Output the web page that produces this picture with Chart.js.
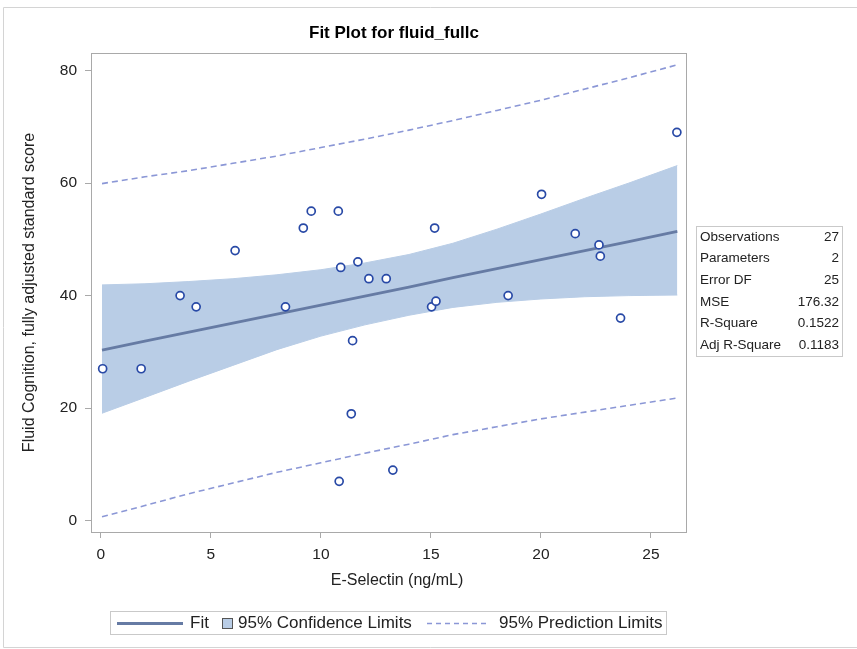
<!DOCTYPE html>
<html>
<head>
<meta charset="utf-8">
<title>Fit Plot for fluid_fullc</title>
<script src="https://cdn.jsdelivr.net/npm/chart.js@4/dist/chart.umd.min.js"></script>
<style>
  html, body { margin: 0; padding: 0; background: #ffffff; }
  canvas { display: block; }
</style>
</head>
<body>
<canvas id="fit" width="857" height="649"></canvas>
<script>
// Observations: E-Selectin (ng/mL) vs fluid cognition score
const selectin = [0.08, 1.83, 3.60, 4.33, 6.10, 8.39, 9.20, 9.56, 10.79, 10.83, 10.90, 11.38, 11.44, 11.68,
                  12.18, 12.97, 13.27, 15.03, 15.17, 15.23, 18.51, 20.03, 21.56, 22.64, 22.70, 23.62, 26.18];
const fluidScore = [27, 27, 40, 38, 48, 38, 52, 55, 55, 7, 45, 19, 32, 46,
                    43, 43, 9, 38, 52, 39, 40, 58, 51, 49, 47, 36, 69];

// Fit line, confidence band and prediction limits, read at these x positions
const curveX   = [0.05, 2, 4, 6, 8, 10, 12, 14, 16, 18, 20, 22, 24, 26.2];
const fitY     = [30.3, 31.9, 33.5, 35.1, 36.7, 38.3, 39.9, 41.5, 43.2, 44.8, 46.4, 48.0, 49.6, 51.4];
const confUpper = [41.9, 42.1, 42.5, 43.0, 43.7, 44.6, 45.8, 47.3, 49.3, 51.8, 54.5, 57.3, 60.0, 63.1];
const confLower = [19.1, 21.9, 24.8, 27.6, 30.4, 32.8, 34.8, 36.5, 37.9, 38.8, 39.4, 39.8, 40.0, 40.1];
const predUpper = [59.9, 61.1, 62.2, 63.5, 64.8, 66.3, 67.8, 69.4, 71.1, 72.9, 74.7, 76.7, 78.7, 81.0];
const predLower = [0.7, 2.7, 4.8, 6.7, 8.6, 10.3, 12.0, 13.6, 15.3, 16.7, 18.1, 19.3, 20.5, 21.8];

// Axis ticks
const xTicks = [0, 5, 10, 15, 20, 25];
const yTicks = [0, 20, 40, 60, 80];

// Fit statistics table
const statNames  = ['Observations', 'Parameters', 'Error DF', 'MSE', 'R-Square', 'Adj R-Square'];
const statValues = ['27', '2', '25', '176.32', '0.1522', '0.1183'];

const chartTitle = 'Fit Plot for fluid_fullc';
const xTitle = 'E-Selectin (ng/mL)';
const yTitle = 'Fluid Cognition, fully adjusted standard score';
const legendLabels = ['Fit', '95% Confidence Limits', '95% Prediction Limits'];

const FONT = '"Liberation Sans", Arial, sans-serif';
const C = {
  marker: '#2849a6',
  fit: '#667ba4',
  band: '#b9cde6',
  pred: '#8b97d6',
  frame: '#a9a9a9',
  text: '#222222',
  box: '#c9c9c9'
};

const pairs = (xs, ys) => xs.map((x, i) => ({ x: x, y: ys[i] }));

const decor = {
  id: 'fitPlotDecor',
  afterDatasetsDraw(chart) {
    const { ctx, chartArea: a } = chart;
    ctx.save();
    ctx.strokeStyle = C.frame;
    ctx.lineWidth = 1;
    ctx.strokeRect(Math.round(a.left) + 0.5, Math.round(a.top) + 0.5,
                   Math.round(a.right - a.left) - 1, Math.round(a.bottom - a.top));
    ctx.restore();
  },
  afterDraw(chart) {
    const { ctx, chartArea: a } = chart;
    ctx.save();

    // outer graph border
    ctx.strokeStyle = '#d4d4d4';
    ctx.lineWidth = 1;
    ctx.beginPath();
    ctx.moveTo(860, 7.5); ctx.lineTo(3.5, 7.5); ctx.lineTo(3.5, 647.5); ctx.lineTo(860, 647.5);
    ctx.stroke();

    // title
    ctx.fillStyle = '#000';
    ctx.font = 'bold 17px ' + FONT;
    ctx.textAlign = 'center';
    ctx.textBaseline = 'middle';
    ctx.fillText(chartTitle, 394, 33);

    // axis titles
    ctx.fillStyle = C.text;
    ctx.font = '16px ' + FONT;
    ctx.fillText(xTitle, (a.left + a.right) / 2 + 8, 581);
    ctx.save();
    ctx.translate(30, (a.top + a.bottom) / 2);
    ctx.rotate(-Math.PI / 2);
    ctx.fillText(yTitle, 0, 0);
    ctx.restore();

    // statistics table
    ctx.strokeStyle = C.box;
    ctx.strokeRect(696.5, 226.5, 146, 130);
    ctx.font = '13.5px ' + FONT;
    ctx.fillStyle = C.text;
    statNames.forEach((name, i) => {
      const y = 237 + i * 21.6;
      ctx.textAlign = 'left';
      ctx.fillText(name, 700, y);
      ctx.textAlign = 'right';
      ctx.fillText(statValues[i], 839, y);
    });

    // legend
    ctx.strokeStyle = C.box;
    ctx.strokeRect(110.5, 611.5, 556, 23);
    const ly = 623.5;
    ctx.strokeStyle = C.fit;
    ctx.lineWidth = 3;
    ctx.beginPath(); ctx.moveTo(117, ly); ctx.lineTo(183, ly); ctx.stroke();
    ctx.font = '17px ' + FONT;
    ctx.fillStyle = C.text;
    ctx.textAlign = 'left';
    ctx.fillText(legendLabels[0], 190, ly);
    ctx.fillStyle = C.band;
    ctx.fillRect(222, 618, 10, 10);
    ctx.strokeStyle = '#555';
    ctx.lineWidth = 1;
    ctx.strokeRect(222.5, 618.5, 10, 10);
    ctx.fillStyle = C.text;
    ctx.fillText(legendLabels[1], 238, ly);
    ctx.strokeStyle = C.pred;
    ctx.lineWidth = 1.3;
    ctx.setLineDash([5, 4]);
    ctx.beginPath(); ctx.moveTo(427, ly); ctx.lineTo(488, ly); ctx.stroke();
    ctx.setLineDash([]);
    ctx.fillText(legendLabels[2], 499, ly);

    ctx.restore();
  }
};

const axisCommon = {
  type: 'linear',
  border: { display: false },
  grid: { drawOnChartArea: false, drawTicks: true, tickLength: 6, color: C.frame, tickColor: C.frame },
  ticks: { color: C.text, font: { family: FONT, size: 15.5 } }
};

new Chart(document.getElementById('fit'), {
  type: 'scatter',
  data: {
    datasets: [
      {
        label: 'Observations',
        data: pairs(selectin, fluidScore),
        showLine: false,
        pointRadius: 4,
        pointBorderWidth: 1.7,
        pointBackgroundColor: '#ffffff',
        pointBorderColor: C.marker,
        order: 0
      },
      {
        label: 'Fit',
        data: pairs(curveX, fitY),
        showLine: true,
        borderColor: C.fit,
        borderWidth: 2.8,
        pointRadius: 0,
        fill: false,
        order: 1
      },
      {
        label: 'Upper prediction limit',
        data: pairs(curveX, predUpper),
        showLine: true,
        borderColor: C.pred,
        borderWidth: 1.6,
        borderDash: [6, 4],
        pointRadius: 0,
        fill: false,
        order: 2
      },
      {
        label: 'Lower prediction limit',
        data: pairs(curveX, predLower),
        showLine: true,
        borderColor: C.pred,
        borderWidth: 1.6,
        borderDash: [6, 4],
        pointRadius: 0,
        fill: false,
        order: 3
      },
      {
        label: 'Upper confidence limit',
        data: pairs(curveX, confUpper),
        showLine: true,
        borderColor: C.band,
        borderWidth: 1,
        backgroundColor: C.band,
        pointRadius: 0,
        fill: '+1',
        order: 4
      },
      {
        label: 'Lower confidence limit',
        data: pairs(curveX, confLower),
        showLine: true,
        borderColor: C.band,
        borderWidth: 1,
        pointRadius: 0,
        fill: false,
        order: 5
      }
    ]
  },
  options: {
    responsive: false,
    animation: false,
    devicePixelRatio: 1,
    layout: { padding: { top: 53, right: 170, bottom: 0, left: 0 } },
    plugins: {
      legend: { display: false },
      tooltip: { enabled: false },
      title: { display: false }
    },
    scales: {
      x: Object.assign({}, axisCommon, {
        min: -0.45, max: 26.64,
        afterBuildTicks: s => { s.ticks = xTicks.map(v => ({ value: v })); },
        afterFit: s => { s.height = 117; },
        ticks: Object.assign({}, axisCommon.ticks, { padding: 7, maxRotation: 0 })
      }),
      y: Object.assign({}, axisCommon, {
        min: -2.0, max: 83.1,
        afterBuildTicks: s => { s.ticks = yTicks.map(v => ({ value: v })); },
        afterFit: s => { s.width = 91; },
        ticks: Object.assign({}, axisCommon.ticks, { padding: 8 })
      })
    }
  },
  plugins: [decor]
});
</script>
</body>
</html>
